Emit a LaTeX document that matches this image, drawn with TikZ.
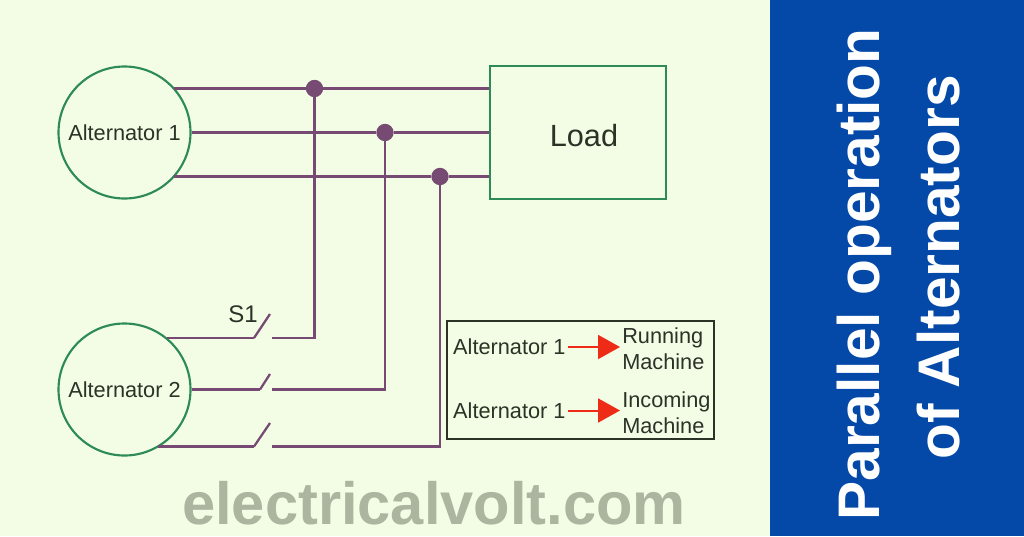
\documentclass[tikz,border=0pt]{standalone}
\usepackage{fontspec}
\setmainfont{Liberation Sans}
\usetikzlibrary{arrows.meta}
\definecolor{pagebg}{HTML}{F3FDE6}
\definecolor{bandblue}{HTML}{0448A8}
\definecolor{wirecol}{HTML}{764A72}
\definecolor{ringcol}{HTML}{2E8B57}
\definecolor{inkcol}{HTML}{2C3226}
\definecolor{markcol}{HTML}{ACB5A0}
\definecolor{arrowcol}{HTML}{EE2B17}
\tikzset{
	alternator/.style={circle,draw=ringcol,line width=1.6pt,minimum size=99pt,inner sep=0pt,text=inkcol,font=\fontsize{16.3}{18}\selectfont},
	wire/.style={wirecol,line width=1.7pt},
	joint/.style={circle,fill=wirecol,minimum size=13pt,inner sep=0pt},
	legendtext/.style={text=inkcol,font=\fontsize{16.3}{19.5}\selectfont},
	legendarrow/.style={arrowcol,line width=1.5pt,-{Triangle[length=16.5pt,width=18pt]}},
	titletext/.style={rotate=90,anchor=base,text=white,font=\bfseries\fontsize{44}{50}\selectfont}
}
\begin{document}
\begin{tikzpicture}[x=0.75pt,y=-0.75pt]
	\useasboundingbox (0,0) rectangle (1024,536);
	\fill [pagebg] (0,0) rectangle (770,536);
	\fill [bandblue] (770,0) rectangle (1024,536);
	% machines and load
	\node [alternator] (alt1) at (124.5,132.5) {Alternator 1};
	\node [alternator] (alt2) at (124.5,389.5) {Alternator 2};
	\node [draw=ringcol,line width=1.6pt,minimum width=132pt,minimum height=100pt] (load) at (578,132.5) {};
	\node [text=inkcol,font=\fontsize{23}{26}\selectfont] (loadtext) at (584,136) {Load};
	\node [joint] (j1) at (314.5,88.5) {};
	\node [joint] (j2) at (385,132.5) {};
	\node [joint] (j3) at (440,176.5) {};
	% bus lines
	\coordinate (a1) at (174,88.5);
	\coordinate (a3) at (174,176.5);
	\coordinate (l1) at (load.west |- j1);
	\coordinate (l3) at (load.west |- j3);
	\draw [wire] (a1) -- (j1) -- (l1);
	\draw [wire] (alt1.east) -- (j2) -- (load.west);
	\draw [wire] (a3) -- (j3) -- (l3);
	% switches
	\foreach \n/\y/\xa/\xb/\yb/\j in {1/338/254/270/314/j1,2/389.5/260/270/374/j2,3/446.5/254/270/423/j3}{
		\coordinate (sa\n) at (\xa,\y);
		\coordinate (sb\n) at (\xb,\yb);
		\coordinate (sc\n) at (272,\y);
		\coordinate (st\n) at (\j |- sc\n);
		\draw [wire] (sa\n) -- (sb\n);
		\draw [wire] (sc\n) -- (st\n) -- (\j);
	}
	\coordinate (b1) at (167,338);
	\coordinate (b3) at (158,446.5);
	\draw [wire] (b1) -- (sa1);
	\draw [wire] (alt2.east) -- (sa2);
	\draw [wire] (b3) -- (sa3);
	\node [text=inkcol,font=\fontsize{18}{20}\selectfont] (s1) at (243,314) {S1};
	% legend
	\node [draw=inkcol,line width=1.6pt,minimum width=200pt,minimum height=88pt] (legend) at (580.5,380) {};
	\node [legendtext,anchor=west] (run) at (448.5,347) {Alternator 1};
	\node [legendtext,anchor=west] (inc) at (448.5,410.5) {Alternator 1};
	\node [legendtext,anchor=west,align=left,inner xsep=0pt] (runm) at (622,349) {Running\\Machine};
	\node [legendtext,anchor=west,align=left,inner xsep=0pt] (incm) at (622,413) {Incoming\\Machine};
	\draw [legendarrow] (run.east) ++(-2pt,0) coordinate (p1) -- ([xshift=-1.5pt]runm.west |- run.east);
	\draw [legendarrow] (inc.east) ++(-2pt,0) coordinate (p2) -- ([xshift=-1.5pt]incm.west |- inc.east);
	% captions
	\node [anchor=base,inner sep=0pt,text=markcol,font=\bfseries\fontsize{44.7}{48}\selectfont] (site) at (434,524) {electricalvolt.com};
	\node [titletext] (title1) at (879,274.5) {Parallel operation};
	\node [titletext] (title2) at (959,267.5) {of Alternators};
\end{tikzpicture}
\end{document}
